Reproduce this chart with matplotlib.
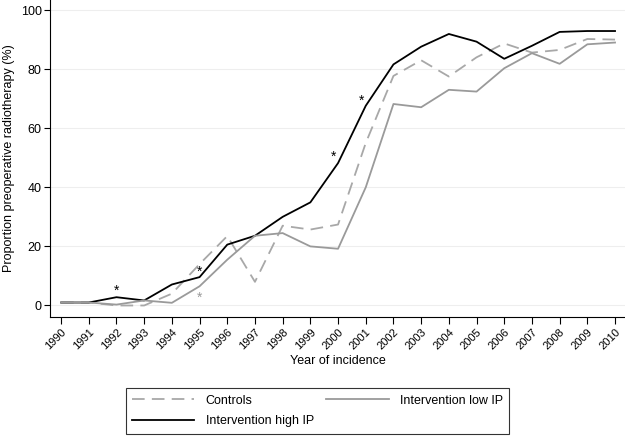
import numpy as np
import matplotlib.pyplot as plt

plt.rcParams['font.family'] = ['Liberation Sans', 'DejaVu Sans']

years = np.arange(1990, 2011)

controls = [1, 1, 0, 0, 4, 14, 23.5, 8, 27, 25.7, 27.4, 55, 77.7, 83, 77.5, 84,
            88.7, 85.6, 86.5, 90.2, 90]
low_ip = [1, 1, 0.3, 1.7, 0.9, 6.5, 15.5, 23.6, 24.5, 20, 19.2, 40, 68.2, 67.1,
          73, 72.4, 80.3, 85.4, 81.8, 88.4, 89]
high_ip = [1, 1, 2.8, 1.7, 7.1, 9.6, 20.6, 23.6, 30, 34.9, 48.2, 67.6, 81.6, 87.6,
           91.9, 89.3, 83.5, 87.9, 92.6, 92.9, 92.9]

# significance markers (year, value)
star_black_x = [1992, 1995, 1999.85, 2000.85]
star_black_y = [6, 12.5, 51.2, 70.2]
star_gray_x = [1995]
star_gray_y = [3.7]

fig = plt.figure(figsize=(6.25, 4.38), dpi=100)
ax = fig.add_axes([50/625, 1 - 317/438, 575/625, 317/438])

gray = '#9a9a9a'
ax.plot(years, controls, color='#a8a8a8', lw=1.3, dashes=(7, 4), label='Controls')
ax.plot(years, high_ip, color='black', lw=1.3, label='Intervention high IP')
ax.plot(years, low_ip, color=gray, lw=1.3, label='Intervention low IP')

for x, y in zip(star_black_x, star_black_y):
    ax.text(x, y - 1, '*', ha='center', va='center', fontsize=10, color='black')
for x, y in zip(star_gray_x, star_gray_y):
    ax.text(x, y - 1, '*', ha='center', va='center', fontsize=10, color=gray)

ax.set_xlim(1989.6, 2010.36)
ax.set_ylim(-3.9, 103.4)
ax.set_yticks(range(0, 101, 20))
ax.set_xticks(years)
ax.set_xticklabels([str(y) for y in years], rotation=45, ha='right',
                   rotation_mode='anchor', fontsize=8)
ax.tick_params(axis='y', labelsize=9, length=4, width=0.8, pad=2)
ax.tick_params(axis='x', length=5, width=0.8, pad=2)
ax.grid(axis='y', color='#eeeeee', lw=0.8)
ax.set_axisbelow(True)
for s in ['top', 'right']:
    ax.spines[s].set_visible(False)
ax.spines['left'].set_linewidth(0.8)
ax.spines['bottom'].set_linewidth(0.8)

ax.set_xlabel('Year of incidence', fontsize=9, labelpad=3)
ax.set_ylabel('Proportion preoperative radiotherapy (%)', fontsize=9, labelpad=4)

leg = fig.legend(loc='center', bbox_to_anchor=(317.5/625, 1 - 411/438), ncol=2,
                 fontsize=9, frameon=True, fancybox=False, handlelength=5,
                 columnspacing=1.0, handletextpad=0.9, borderpad=0.5, labelspacing=0.7)
leg.get_frame().set_edgecolor('black')
leg.get_frame().set_linewidth(0.8)

fig.savefig('out.png', dpi=100)
